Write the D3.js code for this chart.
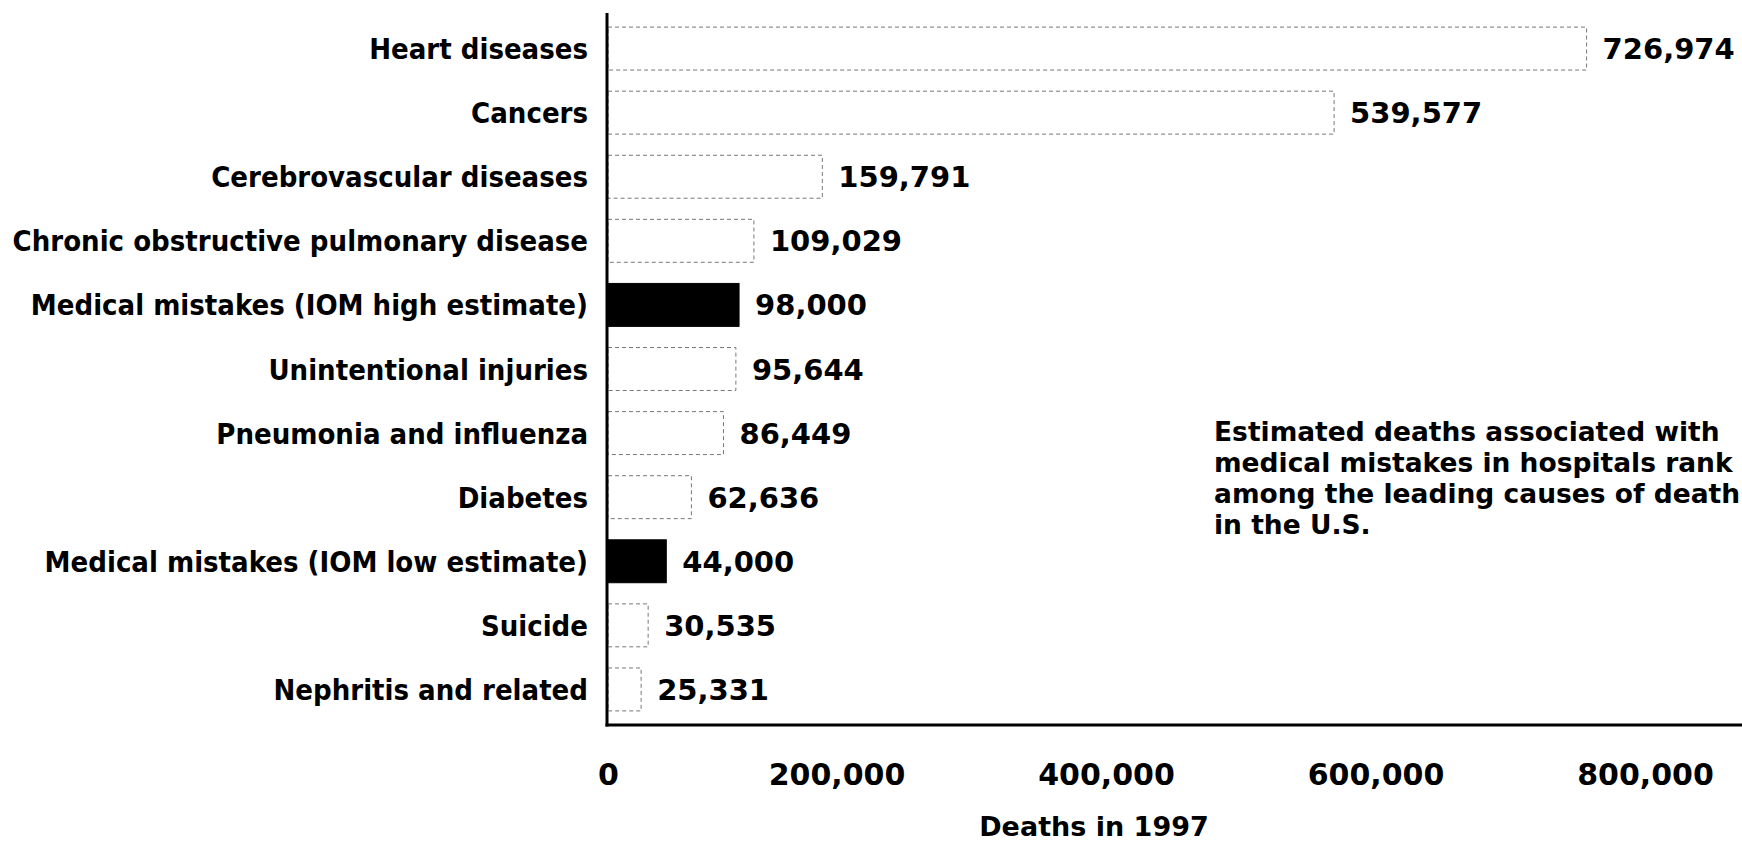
<!DOCTYPE html>
<html>
<head>
<meta charset="utf-8">
<script src="https://cdn.jsdelivr.net/npm/d3@7"></script>
<style>
  html, body { margin: 0; padding: 0; background: #fff; }
  svg { display: block; }
  .cat { font-family: "DejaVu Sans Condensed", "DejaVu Sans", sans-serif; font-stretch: condensed; font-weight: bold; font-size: 29px; fill: #000; }
  .val, .tick text { font-family: "DejaVu Sans", sans-serif; font-weight: bold; fill: #000; }
  .note, .title { font-family: "DejaVu Sans", sans-serif; font-weight: bold; fill: #000; }
</style>
</head>
<body>
<svg id="chart" width="1742" height="843"></svg>
<script>
// Leading causes of death in the U.S., 1997
const categories = [
  "Heart diseases",
  "Cancers",
  "Cerebrovascular diseases",
  "Chronic obstructive pulmonary disease",
  "Medical mistakes (IOM high estimate)",
  "Unintentional injuries",
  "Pneumonia and influenza",
  "Diabetes",
  "Medical mistakes (IOM low estimate)",
  "Suicide",
  "Nephritis and related"
];
const deaths = [726974, 539577, 159791, 109029, 98000, 95644, 86449, 62636, 44000, 30535, 25331];
const highlighted = [
  "Medical mistakes (IOM high estimate)",
  "Medical mistakes (IOM low estimate)"
];
const tickValues = [0, 200000, 400000, 600000, 800000];
const axisTitle = "Deaths in 1997";
const noteLines = [
  "Estimated deaths associated with",
  "medical mistakes in hospitals rank",
  "among the leading causes of death",
  "in the U.S."
];

const rows = categories.map((c, i) => ({ cause: c, value: deaths[i] }));

const svg = d3.select("#chart");
const W = 1742, H = 843;
const plotLeft = 607, plotBottom = 725, plotTop = 13;

const x = d3.scaleLinear().domain([0, 800000]).range([plotLeft, plotLeft + 1078]);
const y = d3.scaleBand()
  .domain(categories)
  .range([plotTop, plotBottom])
  .paddingInner(0.33)
  .paddingOuter(0.22);

const fmt = d3.format(",");

// bars: open dotted boxes, solid black for the medical-mistake estimates
svg.append("g").selectAll("rect")
  .data(rows)
  .join("rect")
  .attr("x", x(0) + 1)
  .attr("y", d => y(d.cause))
  .attr("width", d => x(d.value) - x(0) - 1)
  .attr("height", y.bandwidth())
  .attr("fill", d => highlighted.includes(d.cause) ? "#000" : "#fff")
  .attr("stroke", d => highlighted.includes(d.cause) ? "#000" : "#777")
  .attr("stroke-width", 1)
  .attr("stroke-dasharray", d => highlighted.includes(d.cause) ? null : "4,3");

// value labels
svg.append("g").selectAll("text")
  .data(rows)
  .join("text")
  .attr("class", "val")
  .attr("x", d => x(d.value) + 16)
  .attr("y", d => y(d.cause) + y.bandwidth() / 2 + 10.5)
  .attr("font-size", 29)
  .text(d => fmt(d.value));

// category labels
svg.append("g").selectAll("text")
  .data(rows)
  .join("text")
  .attr("class", "cat")
  .attr("x", plotLeft - 19)
  .attr("y", d => y(d.cause) + y.bandwidth() / 2 + 10.5)
  .attr("text-anchor", "end")
  .text(d => d.cause);

// x axis labels
const xAxis = d3.axisBottom(x)
  .tickValues(tickValues)
  .tickSize(0)
  .tickFormat(fmt);
const gx = svg.append("g").attr("transform", `translate(0,${plotBottom})`).call(xAxis);
gx.select(".domain").remove();
gx.selectAll(".tick text")
  .attr("y", 60)
  .attr("dy", 0)
  .attr("dx", d => d === 0 ? 1 : -40)
  .attr("font-size", 30);

// axis lines
svg.append("line")
  .attr("x1", plotLeft).attr("x2", plotLeft)
  .attr("y1", plotTop).attr("y2", plotBottom + 1.5)
  .attr("stroke", "#000").attr("stroke-width", 3);
svg.append("line")
  .attr("x1", plotLeft - 1.5).attr("x2", W)
  .attr("y1", plotBottom).attr("y2", plotBottom)
  .attr("stroke", "#000").attr("stroke-width", 3);

// axis title
svg.append("text")
  .attr("class", "title")
  .attr("x", 1094)
  .attr("y", 836)
  .attr("text-anchor", "middle")
  .attr("font-size", 27)
  .text(axisTitle);

// annotation
svg.append("text")
  .attr("class", "note")
  .attr("font-size", 26.5)
  .selectAll("tspan")
  .data(noteLines)
  .join("tspan")
  .attr("x", 1214)
  .attr("y", (d, i) => 441 + i * 31)
  .text(d => d);
</script>
</body>
</html>
